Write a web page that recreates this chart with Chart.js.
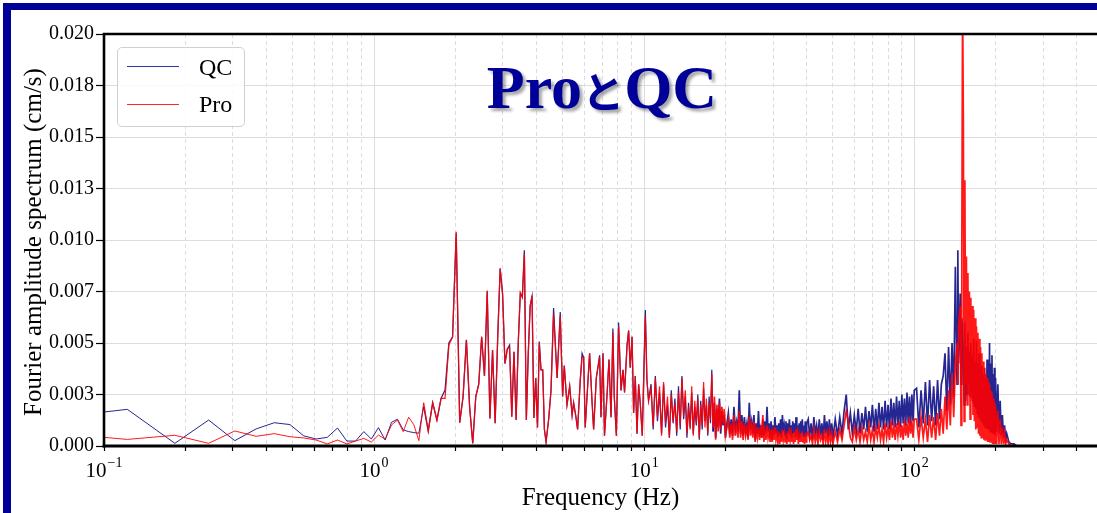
<!DOCTYPE html>
<html>
<head>
<meta charset="utf-8">
<script src="https://cdn.jsdelivr.net/npm/chart.js@4.4.1/dist/chart.umd.min.js"></script>
<style>
  html, body { margin: 0; padding: 0; background: #fff; }
  #wrap { position: relative; width: 1097px; height: 513px; overflow: hidden; background: #fff; }
  #c { position: absolute; left: 0; top: 0; }
  .frame { position: absolute; background: #000099; }
  #legend { position: absolute; left: 117px; top: 47px; width: 128px; height: 80px; box-sizing: border-box;
            border: 1px solid #d0d0d0; border-radius: 5px; background: rgba(255,255,255,0.85); }
  .lgline { position: absolute; left: 127px; width: 52px; height: 1px; }
  .lgtext { position: absolute; left: 199px; font-family: 'Liberation Serif', 'Times New Roman', serif;
            font-size: 24px; line-height: 1; color: #000; white-space: nowrap; }
  #title { position: absolute; left: 402px; width: 400px; top: 56px; text-align: center; white-space: nowrap;
           font-family: 'Liberation Serif', 'Times New Roman', serif; font-weight: bold; font-size: 62px;
           line-height: 1; color: #000099; text-shadow: 3px 3px 3px rgba(0,0,0,0.35); }
  #title .jp { font-family: 'Noto Sans CJK JP', sans-serif; font-size: 42px; font-weight: bold; }
</style>
</head>
<body>
<div id="wrap">
  <canvas id="c" width="1097" height="513"></canvas>
  <div class="frame" style="left:3px;top:3px;width:1094px;height:7px;"></div>
  <div class="frame" style="left:3px;top:3px;width:8px;height:510px;"></div>
  <div id="legend"></div>
  <div class="lgline" style="top:66px;background:rgba(0,0,139,0.8);"></div>
  <div class="lgline" style="top:104px;background:rgba(255,0,0,0.85);"></div>
  <div class="lgtext" style="top:55px;">QC</div>
  <div class="lgtext" style="top:92px;">Pro</div>
  <div id="title">Pro<span class="jp">と</span>QC</div>
</div>
<script>
// ---------------- data ----------------
const freq = [
  0.1,0.122,0.183,0.244,0.305,0.366,0.427,0.488,0.549,0.61,0.671,0.732,0.793,0.854,0.916,0.977,1.038,1.099,1.16,1.221,
  1.282,1.343,1.404,1.465,1.526,1.587,1.648,1.709,1.77,1.831,
  1.892,1.953,2.014,2.075,2.136,2.197,2.258,2.319,2.38,2.441,
  2.502,2.563,2.624,2.685,2.746,2.807,2.868,2.93,2.991,3.052,
  3.113,3.174,3.235,3.296,3.357,3.418,3.479,3.54,3.601,3.662,
  3.723,3.784,3.845,3.906,3.967,4.028,4.089,4.15,4.211,4.272,
  4.333,
  4.43,4.52,4.62,4.76,4.89,4.99,5.06,5.18,5.3,5.41,
  5.48,5.59,5.67,5.8,5.89,5.97,6.05,6.28,6.41,6.5,
  6.65,6.84,6.92,7.04,7.13,7.28,7.41,7.54,7.66,7.75,
  7.89,8.04,8.21,8.35,8.46,8.64,8.76,8.88,9.02,9.14,
  9.27,9.41,9.54,9.67,9.84,10.1,10.24,10.38,
  10.6,10.8,11,11.2,11.4,11.6,11.8,12,12.2,12.4,
  12.6,12.8,13,13.2,13.4,13.6,13.8,14,14.2,14.4,
  14.6,14.8,15,15.2,15.4,15.6,15.8,16,16.2,16.4,
  16.6,16.8,17,17.2,17.4,17.6,17.8,18,18.2,18.4,
  18.6,18.8,19,19.2,19.4,19.6,19.8,20,
  20.25,20.5,20.75,21,21.25,21.5,21.75,22,22.25,22.5,
  22.75,23,23.25,23.5,23.75,24,24.25,24.5,24.75,25,
  25.25,25.5,25.75,26,26.25,26.5,26.75,27,27.25,27.5,
  27.75,28,28.25,28.5,28.75,29,29.25,29.5,29.75,30,
  30.25,30.5,30.75,31,31.25,31.5,31.75,32,32.25,32.5,
  32.75,33,33.25,33.5,33.75,34,34.25,34.5,34.75,35,
  35.25,35.5,35.75,36,36.25,36.5,36.75,37,37.25,37.5,
  37.75,38,38.25,38.5,38.75,39,39.25,39.5,39.75,40,
  40.5,41,41.5,42,42.5,43,43.5,44,44.5,45,
  45.5,46,46.5,47,47.5,48,48.5,49,49.5,50,
  51,52,53,54,55,56,57,58,59,60,
  61,62,63,64,65,66,67,68,69,70,
  71,72,73,74,75,76,77,78,79,80,
  81,82,83,84,85,86,87,88,89,90,
  91,92,93,94,95,96,97,98,99,100,
  102,104,106,108,110,112,114,116,118,120,122,124,126,128,
  130,132,134,136,138,140,142,144,
  145,146,
  148,149,150,151,152,153,154,
  155,156,157,158,159,160,161,162,163,164,
  165,166,167,168,169,170,171,172,173,174,
  175,176,177,178,179,180,181,182,183,184,
  185,186,187,188,189,190,191,192,193,194,
  195,196,197,198,199,200,
  202,204,206,208,210,212,214,216,218,220,
  224,228,234,240
];

const qc = [
  0.00165,0.00178,0.00013,0.00126,0.00026,0.00083,0.00113,0.00104,0.00049,0.00034,0.00042,0.00087,0.00024,0.00024,0.00070,0.00034,0.00089,0.00029,0.00115,0.00130,
  0.00078,0.00070,0.00065,0.00062,0.00191,0.00073,0.00210,0.00126,0.00231,0.00272,
  0.00500,0.00530,0.01033,0.00113,0.00240,0.00515,0.00190,0.00013,0.00240,0.00300,
  0.00530,0.00340,0.00750,0.00134,0.00466,0.00110,0.00520,0.00863,0.00740,0.00400,
  0.00470,0.00490,0.00142,0.00458,0.00126,0.00500,0.00740,0.00725,0.00950,0.00126,
  0.00450,0.00680,0.00725,0.00136,0.00330,0.00090,0.00507,0.00370,0.00370,0.00080,
  0.00020,
  0.0013,0.0027,0.0067,0.0033,0.0065,0.0024,0.0039,0.0020,0.0029,0.0015,
  0.0021,0.0014,0.0008,0.0032,0.0045,0.0043,0.0009,0.0045,0.0022,0.0008,
  0.0033,0.0044,0.0014,0.0045,0.0005,0.0024,0.0042,0.0014,0.0057,0.0024,
  0.0005,0.0060,0.0027,0.0037,0.0026,0.0049,0.0056,0.0038,0.0053,0.0016,
  0.0034,0.0006,0.0030,0.0021,0.0005,0.0066,0.0032,0.0022,
  0.0030,0.0008,0.0034,0.0012,0.0026,0.0006,0.0030,0.0009,0.0020,0.0004,
  0.0027,0.0011,0.0023,0.0005,0.0029,0.0008,0.0034,0.0013,0.0024,0.0004,
  0.0021,0.0009,0.0026,0.0006,0.0019,0.0010,0.0025,0.0003,0.0022,0.0008,
  0.0028,0.0012,0.0020,0.0005,0.0024,0.0011,0.0037,0.0007,0.0021,0.0004,
  0.0018,0.0009,0.0023,0.0006,0.0017,0.0010,0.0015,0.0004,
  0.0011,0.0016,0.0006,0.0013,0.0005,0.0019,0.0008,0.0012,0.0007,0.0027,
  0.0006,0.0015,0.0005,0.0014,0.0007,0.0011,0.0004,0.0021,0.0008,0.0012,
  0.0006,0.0015,0.0003,0.0011,0.0006,0.0017,0.0005,0.0010,0.0004,0.0013,
  0.0005,0.0012,0.0006,0.0019,0.0007,0.0011,0.0004,0.0012,0.0003,0.0010,
  0.0005,0.0014,0.0006,0.0010,0.0004,0.0011,0.0005,0.0013,0.0004,0.0015,
  0.0007,0.0010,0.0005,0.0012,0.0003,0.0011,0.0006,0.0013,0.0005,0.0010,
  0.0004,0.0012,0.0006,0.0011,0.0004,0.0014,0.0005,0.0010,0.0003,0.0011,
  0.0004,0.0012,0.0006,0.0013,0.0005,0.0010,0.0004,0.0012,0.0005,0.0011,
  0.0013,0.0005,0.0011,0.0003,0.0014,0.0006,0.0010,0.0004,0.0013,0.0005,
  0.0011,0.0003,0.0015,0.0006,0.0012,0.0004,0.0013,0.0005,0.0011,0.0004,
  0.0013,0.0005,0.0014,0.0006,0.0017,0.0025,0.0008,0.0016,0.0006,0.0015,
  0.0007,0.0018,0.0006,0.0016,0.0008,0.0019,0.0007,0.0017,0.0009,0.0020,
  0.0007,0.0018,0.0008,0.0021,0.0009,0.0019,0.0008,0.0022,0.0009,0.0020,
  0.0008,0.0023,0.0010,0.0021,0.0009,0.0024,0.0010,0.0022,0.0009,0.0025,
  0.0011,0.0023,0.0010,0.0026,0.0011,0.0024,0.0010,0.0025,0.0012,0.0027,
  0.0028,0.0009,0.0027,0.0011,0.0031,0.0010,0.0032,0.0012,0.0029,0.0010,0.0032,0.0013,0.0030,0.0034,
  0.0045,0.0017,0.0048,0.0020,0.0050,0.0024,0.0087,0.0030,
  0.0095,0.0040,
  0.0074,0.0030,0.0062,0.0055,0.0045,0.0020,0.0060,
  0.0022,0.0048,0.0025,0.0055,0.0030,0.0046,0.0024,0.0050,0.0027,0.0044,
  0.0021,0.0052,0.0019,0.0041,0.0018,0.0051,0.0016,0.0040,0.0014,0.0045,
  0.0013,0.0037,0.0012,0.0039,0.0011,0.0035,0.0010,0.0038,0.0009,0.0033,
  0.0009,0.0042,0.0008,0.0036,0.0008,0.0050,0.0007,0.0040,0.0007,0.0044,
  0.0006,0.0035,0.0006,0.0038,0.0005,0.0033,
  0.0007,0.0030,0.0006,0.0022,0.0005,0.0015,0.0004,0.0010,0.0003,0.0006,
  0.0002,0.0001,0.0001,0.0000
];

const pro = [
  0.00042,0.00032,0.00052,0.00013,0.00073,0.00047,0.00060,0.00045,0.00039,0.00029,0.00010,0.00029,0.00010,0.00024,0.00037,0.00019,0.00053,0.00033,0.00102,0.00126,
  0.00070,0.00140,0.00103,0.00026,0.00210,0.00073,0.00210,0.00126,0.00231,0.00231,
  0.00490,0.00530,0.01040,0.00113,0.00240,0.00515,0.00190,0.00013,0.00240,0.00300,
  0.00530,0.00340,0.00755,0.00134,0.00466,0.00110,0.00520,0.00860,0.00735,0.00400,
  0.00470,0.00480,0.00142,0.00458,0.00126,0.00500,0.00745,0.00720,0.00935,0.00126,
  0.00450,0.00680,0.00730,0.00136,0.00330,0.00090,0.00500,0.00370,0.00370,0.00080,
  0.00020,
  0.0013,0.0027,0.0064,0.0033,0.0063,0.0024,0.0039,0.0020,0.0029,0.0015,
  0.0021,0.0014,0.0008,0.0032,0.0043,0.0043,0.0009,0.0045,0.0022,0.0008,
  0.0033,0.0043,0.0014,0.0045,0.0005,0.0024,0.0042,0.0014,0.0055,0.0024,
  0.0005,0.0058,0.0027,0.0037,0.0026,0.0048,0.0056,0.0038,0.0053,0.0016,
  0.0034,0.0006,0.0030,0.0021,0.0005,0.0063,0.0032,0.0022,
  0.0028,0.0010,0.0033,0.0014,0.0029,0.0005,0.0031,0.0011,0.0024,0.0004,
  0.0025,0.0012,0.0021,0.0007,0.0026,0.0010,0.0033,0.0015,0.0027,0.0006,
  0.0019,0.0008,0.0029,0.0005,0.0022,0.0011,0.0023,0.0004,0.0020,0.0010,
  0.0031,0.0009,0.0023,0.0006,0.0021,0.0013,0.0035,0.0009,0.0024,0.0003,
  0.0020,0.0007,0.0021,0.0008,0.0019,0.0011,0.0018,0.0005,
  0.0009,0.0013,0.0004,0.0011,0.0003,0.0015,0.0005,0.0010,0.0004,0.0017,
  0.0004,0.0012,0.0003,0.0011,0.0005,0.0009,0.0003,0.0014,0.0005,0.0010,
  0.0004,0.0012,0.0002,0.0008,0.0004,0.0009,0.0003,0.0008,0.0004,0.0015,
  0.0002,0.0007,0.0003,0.0010,0.0004,0.0007,0.0002,0.0008,0.0002,0.0007,
  0.0003,0.0009,0.0003,0.0006,0.0002,0.0007,0.0001,0.0006,0.0002,0.0008,
  0.0003,0.0006,0.0002,0.0006,0.0001,0.0007,0.0002,0.0009,0.0003,0.0006,
  0.0002,0.0006,0.0001,0.0007,0.0002,0.0008,0.0003,0.0006,0.0001,0.0005,
  0.0002,0.0006,0.0002,0.0007,0.0002,0.0005,0.0001,0.0006,0.0002,0.0006,
  0.0007,0.0003,0.0005,0.0001,0.0008,0.0002,0.0006,0.0001,0.0007,0.0003,
  0.0005,0.0001,0.0008,0.0002,0.0006,0.0001,0.0007,0.0002,0.0006,0.0001,
  0.0007,0.0002,0.0008,0.0003,0.0010,0.0017,0.0012,0.0004,0.0002,0.0009,
  0.0003,0.0008,0.0002,0.0009,0.0003,0.0007,0.0002,0.0010,0.0003,0.0008,
  0.0002,0.0009,0.0004,0.0010,0.0003,0.0008,0.0002,0.0011,0.0004,0.0009,
  0.0003,0.0012,0.0004,0.0010,0.0003,0.0011,0.0005,0.0012,0.0004,0.0010,
  0.0003,0.0013,0.0005,0.0011,0.0004,0.0014,0.0006,0.0012,0.0004,0.0013,
  0.0013,0.0003,0.0014,0.0004,0.0013,0.0002,0.0015,0.0004,0.0014,0.0003,0.0016,0.0005,0.0018,0.0006,
  0.0024,0.0008,0.0027,0.0010,0.0035,0.0014,0.0040,0.0050,
  0.0030,0.0058,
  0.0068,0.0010,0.0090,0.0220,0.0158,0.0012,0.0129,
  0.0030,0.0092,0.0020,0.0084,0.0025,0.0075,0.0013,0.0072,0.0022,0.0068,
  0.0015,0.0066,0.0012,0.0062,0.0008,0.0058,0.0009,0.0055,0.0006,0.0052,
  0.0005,0.0048,0.0004,0.0045,0.0004,0.0041,0.0003,0.0038,0.0003,0.0035,
  0.0003,0.0033,0.0002,0.0031,0.0002,0.0030,0.0002,0.0027,0.0002,0.0026,
  0.0001,0.0023,0.0001,0.0021,0.0001,0.0019,
  0.0001,0.0017,0.0001,0.0013,0.0001,0.0009,0.0001,0.0006,0.0001,0.0003,
  0.0001,0.0000,0.0000,0.0000
];

// axis ticks
const yTickValues = [0, 0.0025, 0.005, 0.0075, 0.01, 0.0125, 0.015, 0.0175, 0.02];
const yTickLabels = ['0.000','0.003','0.005','0.007','0.010','0.013','0.015','0.018','0.020'];
const xGridValues = [0.1,0.2,0.3,0.4,0.5,0.6,0.7,0.8,0.9,1,2,3,4,5,6,7,8,9,10,20,30,40,50,60,70,80,90,100,200,300,400];
const xMajorValues = [0.1, 1, 10, 100];
const xMajorExponents = ['\u22121', '0', '1', '2'];
const xTitle = 'Frequency (Hz)';
const yTitle = 'Fourier amplitude spectrum (cm/s)';

// ---------------- chart ----------------
const SERIF = "'Liberation Serif', 'Times New Roman', serif";
Chart.defaults.font.family = SERIF;
Chart.defaults.color = '#000';

const decor = {
  id: 'decor',
  afterDraw(chart) {
    const ctx = chart.ctx;
    const a = chart.chartArea;
    const xs = chart.scales.x;
    ctx.save();
    ctx.strokeStyle = '#000';
    ctx.lineWidth = 2.6;
    ctx.beginPath();
    ctx.moveTo(a.left, a.top); ctx.lineTo(a.right + 2, a.top);
    ctx.moveTo(a.left, a.top - 1.3); ctx.lineTo(a.left, a.bottom + 1.5);
    ctx.stroke();
    ctx.lineWidth = 3;
    ctx.beginPath();
    ctx.moveTo(a.left - 1.3, a.bottom); ctx.lineTo(a.right + 2, a.bottom);
    ctx.stroke();
    ctx.fillStyle = '#000';
    ctx.textBaseline = 'alphabetic';
    ctx.textAlign = 'left';
    xMajorValues.forEach((v, i) => {
      const px = xs.getPixelForValue(v);
      ctx.font = '21px ' + SERIF;
      const w1 = ctx.measureText('10').width;
      ctx.font = '14px ' + SERIF;
      const w2 = ctx.measureText(xMajorExponents[i]).width;
      const start = px - (w1 + 1 + w2) / 2;
      ctx.font = '21px ' + SERIF;
      ctx.fillText('10', start, 477);
      ctx.font = '14px ' + SERIF;
      ctx.fillText(xMajorExponents[i], start + w1 + 1, 467);
    });
    ctx.font = '25px ' + SERIF;
    ctx.textAlign = 'center';
    ctx.fillText(xTitle, (a.left + a.right) / 2, 505);
    ctx.translate(41, (a.top + a.bottom) / 2 + 2);
    ctx.rotate(-Math.PI / 2);
    ctx.fillText(yTitle, 0, 0);
    ctx.restore();
  }
};

// thicker strokes where the spectrum is dense (many overlapping FFT bins)
const segWidth = c => {
  const f = freq[c.p0DataIndex];
  return f >= 18 ? 1.7 : (f >= 1.5 ? 1.25 : 1.0);
};

new Chart(document.getElementById('c'), {
  type: 'line',
  data: {
    datasets: [
      { label: 'QC', data: freq.map((f, i) => ({ x: f, y: qc[i] })),
        borderColor: 'rgba(0,0,128,0.85)', borderWidth: 1, pointRadius: 0, tension: 0, order: 1,
        segment: { borderWidth: segWidth } },
      { label: 'Pro', data: freq.map((f, i) => ({ x: f, y: pro[i] })),
        borderColor: 'rgba(255,0,0,0.9)', borderWidth: 1, pointRadius: 0, tension: 0, order: 0,
        segment: { borderWidth: segWidth } }
    ]
  },
  options: {
    responsive: false,
    animation: false,
    events: [],
    layout: { padding: { top: 34, left: 0, right: 0, bottom: 0 } },
    plugins: { legend: { display: false }, tooltip: { enabled: false }, title: { display: false } },
    scales: {
      x: {
        type: 'logarithmic', position: 'bottom', min: 0.1, max: 475,
        afterBuildTicks: s => { s.ticks = xGridValues.map(v => ({ value: v, major: xMajorValues.includes(v) })); },
        afterFit: s => { s.height = 67; },
        ticks: { display: false },
        grid: { color: '#dddddd', lineWidth: 1, drawTicks: true, tickLength: 5, tickColor: '#000', tickWidth: 1.2 },
        border: { display: false, dash: c => (c.tick && !c.tick.major) ? [4, 3] : [] }
      },
      y: {
        type: 'linear', min: 0, max: 0.02,
        afterBuildTicks: s => { s.ticks = yTickValues.map(v => ({ value: v })); },
        afterFit: s => { s.width = 104; },
        ticks: { autoSkip: false, padding: 2, font: { size: 20 }, color: '#000',
                 callback: (v, i) => yTickLabels[i] },
        grid: { color: '#dddddd', lineWidth: 1, tickLength: 8, tickColor: '#000', tickWidth: 1.2 },
        border: { display: false }
      }
    }
  },
  plugins: [decor]
});
</script>
</body>
</html>
